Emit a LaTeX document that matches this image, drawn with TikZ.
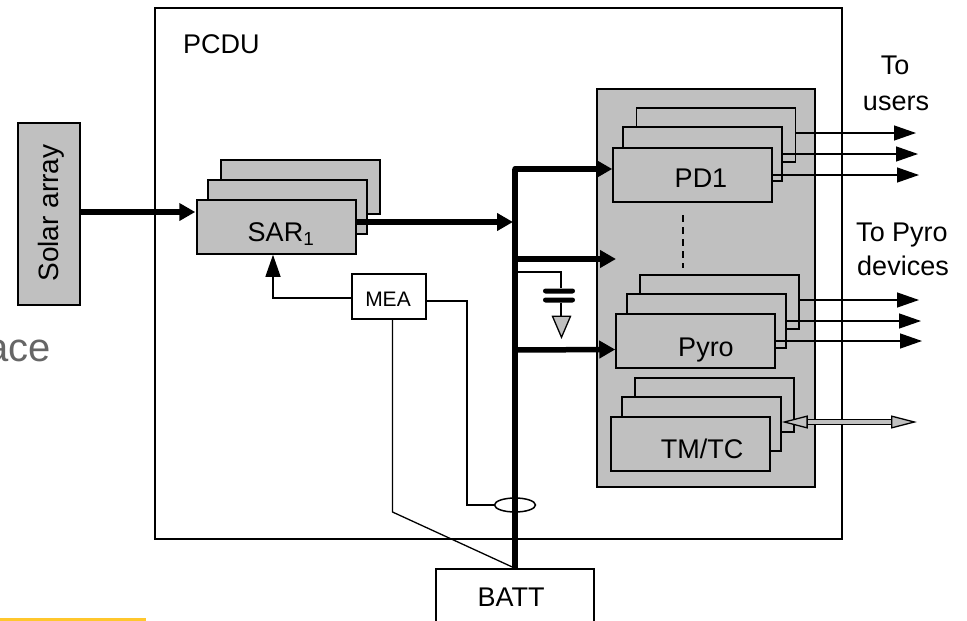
\documentclass[tikz,border=0pt]{standalone}
\usepackage{fontspec}
\setmainfont{Liberation Sans}
\usetikzlibrary{positioning, arrows.meta, shapes.geometric}
\definecolor{boxgray}{HTML}{C0C0C0}
\definecolor{spacegray}{HTML}{666666}
\definecolor{footyellow}{HTML}{FFC72C}
\tikzset{
	unit/.style={draw=black, line width=1.5, fill=boxgray, minimum width=159, minimum height=54, inner sep=0},
	lbl/.style={font=\fontsize{27}{30}\selectfont, inner sep=0, anchor=base},
	thinline/.style={line width=1.3},
	powerline/.style={line width=5.5},
	powerarrow/.style={powerline, -{Triangle[length=16, width=17]}},
	outarrow/.style={thinline, -{Triangle[length=22, width=15]}},
	plate/.style={fill=black, rounded corners=2.5, minimum width=32, minimum height=5, inner sep=0}
}

\begin{document}
\begin{tikzpicture}[x=1pt, y=-1pt]
	\useasboundingbox (0,0) rectangle (967,621);
	\node[draw=black, line width=1.5, minimum width=687, minimum height=531, inner sep=0] (pcdu) at (498.5,273.5) {};
	\node[lbl, anchor=base west] (pcdutext) at (183,53) {PCDU};
	\node[lbl, anchor=base east, text=spacegray, font=\fontsize{40}{44}\selectfont] (spacetext) at (51,361) {ace};
	\node[fill=footyellow, minimum width=146, minimum height=2.5, inner sep=0, anchor=south west] (footbar) at (0,621) {};

	\node[draw=black, line width=1.5, fill=boxgray, minimum width=62, minimum height=182, inner sep=0] (solar) at (49,214) {};
	\node[lbl, rotate=90, font=\fontsize{28}{32}\selectfont] (solartext) at (58,213) {Solar array};

	% SAR stack
	\node[unit] (sarc) at (300.5,187) {};
	\node[unit, at=(sarc), xshift=-13, yshift=-20] (sarb) {};
	\node[unit, at=(sarb), xshift=-11, yshift=-20] (sara) {};
	\node[lbl] (sartext) at (281,241) {SAR$_{\fontsize{17}{20}\selectfont\mathrm{1}}$};

	% gray panel with the distribution units
	\node[draw=black, line width=1.5, fill=boxgray, minimum width=218, minimum height=398, inner sep=0] (panel) at (706,288) {};
	\node[unit] (pdc) at (716,135) {};
	\node[unit, at=(pdc), xshift=-13.5, yshift=-19] (pdb) {};
	\node[unit, at=(pdb), xshift=-10, yshift=-21] (pda) {};
	\node[lbl] (pdtext) at (701,187) {PD1};
	\node[unit] (pyroc) at (719.5,302) {};
	\node[unit, at=(pyroc), xshift=-13, yshift=-19] (pyrob) {};
	\node[unit, at=(pyrob), xshift=-11, yshift=-20] (pyroa) {};
	\node[lbl] (pyrotext) at (706,356) {Pyro};
	\node[unit] (tmc) at (714.5,405) {};
	\node[unit, at=(tmc), xshift=-13, yshift=-19] (tmb) {};
	\node[unit, at=(tmb), xshift=-11, yshift=-20] (tma) {};
	\node[lbl] (tmtext) at (702,458) {TM/TC};
	\coordinate (dota) at (683,215);
	\coordinate (dotb) at (683,268);
	\draw[line width=2.2, dashed, dash pattern=on 7 off 5] (dota) -- (dotb);

	\node[draw=black, line width=1.5, fill=white, minimum width=74, minimum height=45, inner sep=0] (mea) at (389,296.5) {};
	\node[lbl, font=\fontsize{21}{24}\selectfont] (meatext) at (388,306) {MEA};
	\node[draw=black, line width=1.5, fill=white, minimum width=158, minimum height=120, inner sep=0] (batt) at (515,629) {};
	\node[lbl] (batttext) at (511,606) {BATT};
	\node[draw=black, ellipse, line width=1.5, minimum width=41, minimum height=14, inner sep=0] (sense) at (515,505) {};

	\node[lbl] (totext) at (895,74) {To};
	\node[lbl] (userstext) at (896,110) {users};
	\node[lbl] (topyrotext) at (902,241) {To Pyro};
	\node[lbl] (devicestext) at (903,275) {devices};

	\coordinate (bustop) at (515,169);
	\coordinate (busin) at (513,222);
	\coordinate (midtip) at (616,259);
	\coordinate (tapcap) at (515,272);
	\coordinate (tapmid) at (515,259);
	\coordinate (tappyro) at (515,350);
	\coordinate (meaturn) at (467,301);
	\coordinate (meadiag) at (392.5,512);
	\coordinate (ua) at (916,133);
	\coordinate (ub) at (918,154);
	\coordinate (uc) at (919,175);
	\coordinate (pa) at (919,300);
	\coordinate (pb) at (921,321);
	\coordinate (pc) at (922,341);
	\coordinate (tmout) at (917,422);

	\draw[powerline, line join=round] (bustop) -- (batt.north);
	\draw[powerarrow] ([yshift=2]solar.east) -- ([xshift=-1, yshift=15]sara.west);
	\draw[powerarrow] ([yshift=5]sara.east) -- (busin);
	\draw[powerarrow, line cap=round] (bustop) -- ([yshift=6]pda.west);
	\draw[powerarrow] (tapmid) -- (midtip);
	\draw[powerarrow] (tappyro) -- ([yshift=-8.5]pyroa.west);

	\draw[outarrow] ([yshift=2]pdc.east) -- (ua);
	\draw[outarrow] (pdb.east) -- (ub);
	\draw[outarrow] (pda.east) -- (uc);
	\draw[outarrow] ([yshift=2]pyroc.east) -- (pa);
	\draw[outarrow] (pyrob.east) -- (pb);
	\draw[outarrow] (pyroa.east) -- (pc);

	\draw[thinline, -{Triangle[length=22, width=15]}] ([yshift=-1.5]mea.west) -| (sara.south -| 273,0);
	\draw[thinline] ([yshift=-4.5]mea.east) -- (meaturn) |- (sense.west);
	\draw[thinline] ([xshift=3.5]mea.south) -- (meadiag) -- (batt.north);

	% capacitor to ground
	\node[plate] (capa) at (559,291) {};
	\node[plate] (capb) at (559,300) {};
	\node[draw=black, line width=1.3, fill=boxgray, isosceles triangle, isosceles triangle stretches, shape border rotate=-90, minimum width=18, minimum height=21, inner sep=0, anchor=apex] (gnd) at (561.5,339) {};
	\draw[thinline] (tapcap) -| ([xshift=2]capa.north);
	\draw[thinline] ([xshift=2]capb.south) -- (gnd.north -| 561,0);

	\draw[line width=1.3, double=boxgray, double distance=4, {Triangle[length=26, width=13, fill=boxgray]}-{Triangle[length=26, width=13, fill=boxgray]}] ([yshift=2]tmb.east) -- (tmout);
\end{tikzpicture}
\end{document}
